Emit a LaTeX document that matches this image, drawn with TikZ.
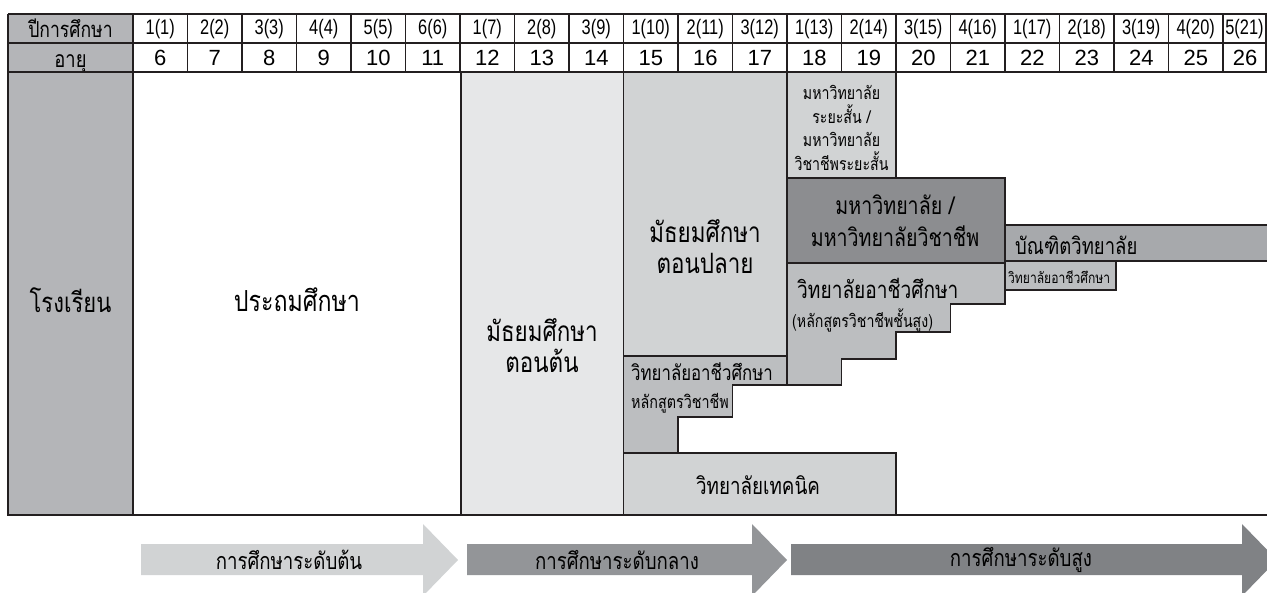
\documentclass[tikz,border=0pt]{standalone}
\usepackage{fontspec}
\setmainfont[Script=Thai,FakeStretch=0.8]{Loma}
\newfontfamily\hdrnum[FakeStretch=0.78]{Liberation Sans}
\newfontfamily\agenum{Liberation Sans}
\definecolor{cLine}{RGB}{35,31,32}
\definecolor{cLabel}{RGB}{180,181,184}
\definecolor{cVlight}{RGB}{230,231,232}
\definecolor{cLight}{RGB}{209,211,212}
\definecolor{cMid}{RGB}{188,190,192}
\definecolor{cGrad}{RGB}{167,169,172}
\definecolor{cUni}{RGB}{140,141,144}
\definecolor{cArrA}{RGB}{209,211,212}
\definecolor{cArrB}{RGB}{147,149,152}
\definecolor{cArrC}{RGB}{128,130,133}
\newcommand{\fs}[2]{\fontsize{#1}{#2}\selectfont}
\begin{document}
\begin{tikzpicture}[x=1pt,y=-1pt,
  box/.style={draw=cLine,line width=1.1pt},
  grid/.style={draw=cLine,line width=1.1pt},
  hdr/.style={font=\hdrnum\fs{21}{21},inner sep=0pt},
  agehdr/.style={font=\agenum\fs{22}{22},inner sep=0pt},
  lbl/.style={inner sep=0pt},
  txt/.style={inner sep=0pt,align=center},
  arrtxt/.style={font=\fs{23.3}{23.3},inner sep=0pt}]
\useasboundingbox (0,0) rectangle (1267,592);
\clip (0,0) rectangle (1267,592);
% header
\fill[cLabel] (8,14) rectangle (133,72);
\draw[grid] (8,14) -- (1290,14);
\draw[grid] (8,43) -- (1290,43);
\draw[grid] (8,72) -- (1290,72);
\draw[grid] (8,14) -- (8,72);
\draw[grid] (1266,14) -- (1266,72);
\foreach \i in {0,...,20} {\draw[grid] ({133+54.5*\i},14) -- ({133+54.5*\i},72);}
\node[lbl,anchor=base,font=\fs{22}{22}] (hyear) at (70.5,37) {ปีการศึกษา};
\node[lbl,anchor=base,font=\fs{23}{23}] (hage) at (70.5,67) {อายุ};
\foreach \t [count=\i] in {1(1),2(2),3(3),4(4),5(5),6(6),1(7),2(8),3(9),1(10),2(11),3(12),1(13),2(14),3(15),4(16),1(17),2(18),3(19),4(20)}
  {\node[hdr] (y\i) at ({133+54.5*\i-27.25},29) {\t};}
\node[hdr] (y21) at (1244.5,29) {5(21)};
\foreach \i in {1,...,20}
  {\pgfmathtruncatemacro{\a}{\i+5}\node[agehdr] (a\i) at ({133+54.5*\i-27.25},58) {\a};}
\node[agehdr] (a21) at (1245,58) {26};
% body
\filldraw[box,fill=cLabel] (8,72) rectangle (133,515);
\draw[box] (133,72) rectangle (461,515);
\filldraw[box,fill=cVlight] (461,72) rectangle (623.5,515);
\filldraw[box,fill=cLight] (623.5,72) rectangle (787,356);
\filldraw[box,fill=cMid] (623.5,356) -- (787,356) -- (787,385) -- (732.5,385) -- (732.5,417) -- (678,417) -- (678,453) -- (623.5,453) -- cycle;
\filldraw[box,fill=cLight] (623.5,453) rectangle (896,515);
\filldraw[box,fill=cLight] (787,72) rectangle (896,178);
\filldraw[box,fill=cUni] (787,178) rectangle (1005,263);
\filldraw[box,fill=cMid] (787,263) -- (1005,263) -- (1005,304) -- (950.5,304) -- (950.5,332) -- (896,332) -- (896,359) -- (841.5,359) -- (841.5,385) -- (787,385) -- cycle;
\filldraw[box,fill=cGrad] (1005,225) rectangle (1290,261);
\filldraw[box,fill=cMid] (1005,261) rectangle (1116,290);
\draw[grid] (8,515) -- (1290,515);
% texts
\node[txt,font=\fs{27.5}{31}] (school) at (70.5,300) {โรงเรียน};
\node[txt,font=\fs{29}{31}] (prim) at (297,300) {ประถมศึกษา};
\node[txt,font=\fs{28}{31}] (lsec) at (542,346) {มัธยมศึกษา\\ตอนต้น};
\node[txt,font=\fs{28}{31}] (usec) at (705,247) {มัธยมศึกษา\\ตอนปลาย};
\node[txt,font=\fs{17.7}{23.5}] (short) at (841.5,128) {มหาวิทยาลัย\\ระยะสั้น /\\มหาวิทยาลัย\\วิชาชีพระยะสั้น};
\node[txt,font=\fs{24.5}{32}] (uni) at (895,221) {มหาวิทยาลัย /\\มหาวิทยาลัยวิชาชีพ};
\node[lbl,anchor=west,font=\fs{23.9}{24}] (hvoc) at (797,288) {วิทยาลัยอาชีวศึกษา};
\node[lbl,anchor=west,font=\fs{17.7}{18}] (hvocb) at (792,320) {(หลักสูตรวิชาชีพชั้นสูง)};
\node[lbl,anchor=west,font=\fs{21}{21}] (voc) at (631,372) {วิทยาลัยอาชีวศึกษา};
\node[lbl,anchor=west,font=\fs{17.9}{18}] (vocb) at (631,403) {หลักสูตรวิชาชีพ};
\node[txt,font=\fs{23.5}{24}] (tech) at (758,485) {วิทยาลัยเทคนิค};
\node[lbl,anchor=west,font=\fs{23.1}{24}] (grad) at (1015,245) {บัณฑิตวิทยาลัย};
\node[lbl,anchor=west,font=\fs{15.1}{16}] (gvoc) at (1008,277) {วิทยาลัยอาชีวศึกษา};
% arrows
\fill[cArrA] (141,544) -- (423,544) -- (423,524) -- (458,560) -- (423,596) -- (423,575) -- (141,575) -- cycle;
\fill[cArrB] (467,544) -- (752,544) -- (752,524) -- (787,560) -- (752,596) -- (752,575) -- (467,575) -- cycle;
\fill[cArrC] (791,544) -- (1242,544) -- (1242,524) -- (1277,560) -- (1242,596) -- (1242,575) -- (791,575) -- cycle;
\node[arrtxt] (lev1) at (289,560) {การศึกษาระดับต้น};
\node[arrtxt] (lev2) at (617,560) {การศึกษาระดับกลาง};
\node[arrtxt] (lev3) at (1021,560) {การศึกษาระดับสูง};
\end{tikzpicture}
\end{document}
